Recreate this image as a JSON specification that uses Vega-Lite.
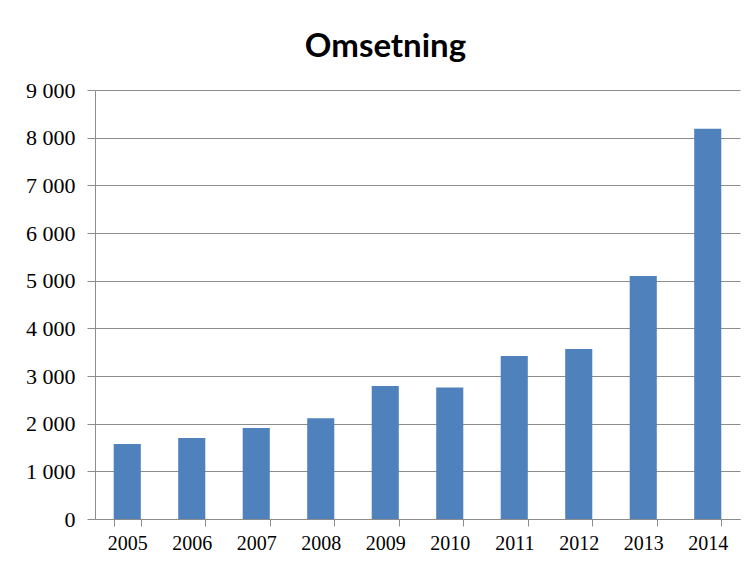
{
  "$schema": "https://vega.github.io/schema/vega-lite/v6.json",
  "autosize": {"type": "none"},
  "width": 645,
  "height": 429,
  "padding": {"left": 95, "top": 90, "right": 13, "bottom": 44},
  "background": "white",
  "title": {
    "text": "Omsetning",
    "font": "Lato",
    "fontWeight": "bold",
    "fontSize": 33,
    "color": "#000000",
    "anchor": "middle",
    "frame": "group",
    "dx": -32,
    "offset": 15
  },
  "data": {
    "values": [
      {"year": "2005", "value": 1575},
      {"year": "2006", "value": 1700},
      {"year": "2007", "value": 1910},
      {"year": "2008", "value": 2115},
      {"year": "2009", "value": 2790},
      {"year": "2010", "value": 2760},
      {"year": "2011", "value": 3420},
      {"year": "2012", "value": 3565},
      {"year": "2013", "value": 5100},
      {"year": "2014", "value": 8185}
    ]
  },
  "mark": {"type": "bar", "color": "#4f81bd"},
  "encoding": {
    "x": {
      "field": "year",
      "type": "nominal",
      "title": null,
      "scale": {"paddingInner": 0.58, "paddingOuter": 0.29},
      "axis": {
        "labelAngle": 0,
        "labelFont": "Liberation Serif",
        "labelFontSize": 20,
        "labelColor": "#000000",
        "labelPadding": 7,
        "tickBand": "extent",
        "tickSize": 7,
        "tickColor": "#8c8c8c",
        "domainColor": "#8c8c8c",
        "grid": false
      }
    },
    "y": {
      "field": "value",
      "type": "quantitative",
      "title": null,
      "scale": {"domain": [0, 9000], "nice": false},
      "axis": {
        "values": [0, 1000, 2000, 3000, 4000, 5000, 6000, 7000, 8000, 9000],
        "labelExpr": "replace(format(datum.value, ','), ',', ' ')",
        "labelFont": "Liberation Serif",
        "labelFontSize": 22,
        "labelColor": "#000000",
        "labelPadding": 12,
        "tickSize": 8,
        "tickColor": "#8c8c8c",
        "domainColor": "#8c8c8c",
        "grid": true,
        "gridColor": "#8c8c8c",
        "gridWidth": 1
      }
    }
  },
  "config": {"view": {"stroke": null}}
}
